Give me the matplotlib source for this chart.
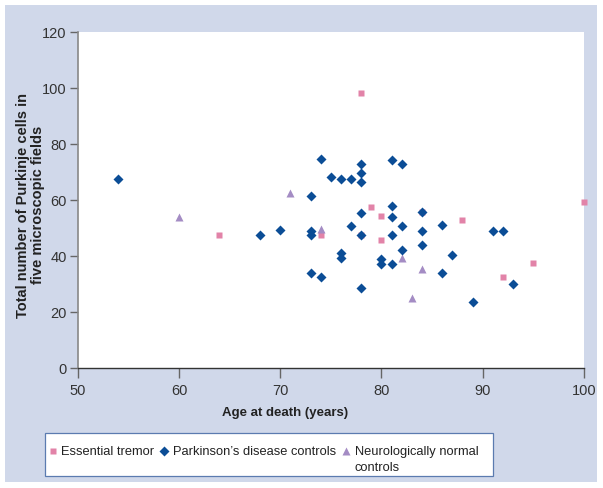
import matplotlib
matplotlib.use("Agg")
import matplotlib.pyplot as plt
from matplotlib.patches import Rectangle

plt.rcParams['font.family'] = ['Liberation Sans', 'DejaVu Sans']

# Essential tremor
et_age = [64, 74, 78, 78, 79, 80, 80, 84, 88, 92, 95, 100]
et_val = [47.5, 47.5, 98.3, 47.5, 57.7, 54.5, 45.8, 55.8, 52.8, 32.5, 37.4, 59.4]

# Parkinson's disease controls
pd_age = [54, 68, 70, 73, 73, 73, 73, 74, 74, 75, 76, 76, 76, 77, 77,
          78, 78, 78, 78, 78, 78, 80, 80, 81, 81, 81, 81, 81, 82, 82, 82,
          84, 84, 84, 86, 86, 87, 89, 91, 92, 93]
pd_val = [67.6, 47.6, 49.5, 61.4, 49.1, 47.6, 34.1, 74.7, 32.5, 68.1, 67.5, 41.0, 39.2, 67.5, 50.9,
          72.9, 69.6, 66.3, 55.5, 47.5, 28.6, 39.0, 37.3, 74.3, 57.8, 54.1, 47.5, 37.3, 72.9, 50.8, 42.3,
          55.6, 49.1, 44.1, 51.0, 33.9, 40.6, 23.7, 49.1, 49.1, 30.2]

# Neurologically normal controls
nn_age = [60, 71, 74, 82, 83, 84]
nn_val = [54.1, 62.5, 49.6, 39.2, 25.0, 35.5]

xticks = [50, 60, 70, 80, 90, 100]
yticks = [0, 20, 40, 60, 80, 100, 120]

W, H = 603, 488
fig = plt.figure(figsize=(W / 100, H / 100), dpi=100, facecolor='white')
fig.patches.append(Rectangle((5 / W, 1 - 482 / H), 592 / W, 477 / H,
                             transform=fig.transFigure, facecolor='#d0d8ea',
                             edgecolor='none', zorder=-10))
# legend frame
fig.patches.append(Rectangle((45 / W, 1 - 476 / H), 448 / W, 43 / H,
                             transform=fig.transFigure, facecolor='white',
                             edgecolor='#5b7bb0', linewidth=0.9, zorder=-5))

ax = fig.add_axes([77.7 / W, 1 - 368.3 / H, (584 - 77.7) / W, (368.3 - 32) / H])
ax.set_facecolor('white')

pink = '#e283a8'
blue = '#0b4d96'
lav = '#a48cc4'

h_et, = ax.plot(et_age, et_val, 's', color=pink, ms=4.6, mec='none', clip_on=False, zorder=3,
                label='Essential tremor')
h_pd, = ax.plot(pd_age, pd_val, 'D', color=blue, ms=4.6, mec='none', clip_on=False, zorder=4,
                label='Parkinson\u2019s disease controls')
h_nn, = ax.plot(nn_age, nn_val, '^', color=lav, ms=6, mec='none', clip_on=False, zorder=3,
                label='Neurologically normal')

ax.set_xlim(50, 100)
ax.set_ylim(0, 120)
ax.set_xticks(xticks)
ax.set_yticks(yticks)
ax.tick_params(axis='both', labelsize=10.5, labelcolor='#333333', color='#666666', width=1)
ax.tick_params(axis='x', length=7, pad=4)
ax.tick_params(axis='y', length=6, pad=2)
for s in ['top', 'right']:
    ax.spines[s].set_visible(False)
ax.spines['left'].set_color('#888888')
ax.spines['left'].set_linewidth(1.2)
ax.spines['bottom'].set_color('#333333')
ax.spines['bottom'].set_linewidth(1.0)

fig.text(284.7 / W, 1 - 413 / H, 'Age at death (years)', ha='center', va='center',
         fontsize=9.5, fontweight='bold', color='#222222')
fig.text(30.5 / W, 1 - 205 / H, 'Total number of Purkinje cells in\nfive microscopic fields',
         ha='center', va='center', rotation=90, fontsize=10.5, fontweight='bold',
         color='#222222', linespacing=1.1)

leg = fig.legend(handles=[h_et, h_pd, h_nn], ncol=3, loc='center left',
                 bbox_to_anchor=(48 / W, 1 - 452 / H), fontsize=9.3,
                 frameon=False, borderpad=0.0, borderaxespad=0.0,
                 handlelength=0.7, handletextpad=0.3, columnspacing=0.45,
                 markerscale=1.0)
for t in leg.get_texts():
    t.set_color('#222222')

fig.canvas.draw()
bb = leg.get_texts()[2].get_window_extent()
fig.text(bb.x0 / W, (bb.y0 - 16) / H, 'controls', ha='left', va='bottom',
         fontsize=9.3, color='#222222')

fig.savefig('out.png', dpi=100, facecolor='white')
